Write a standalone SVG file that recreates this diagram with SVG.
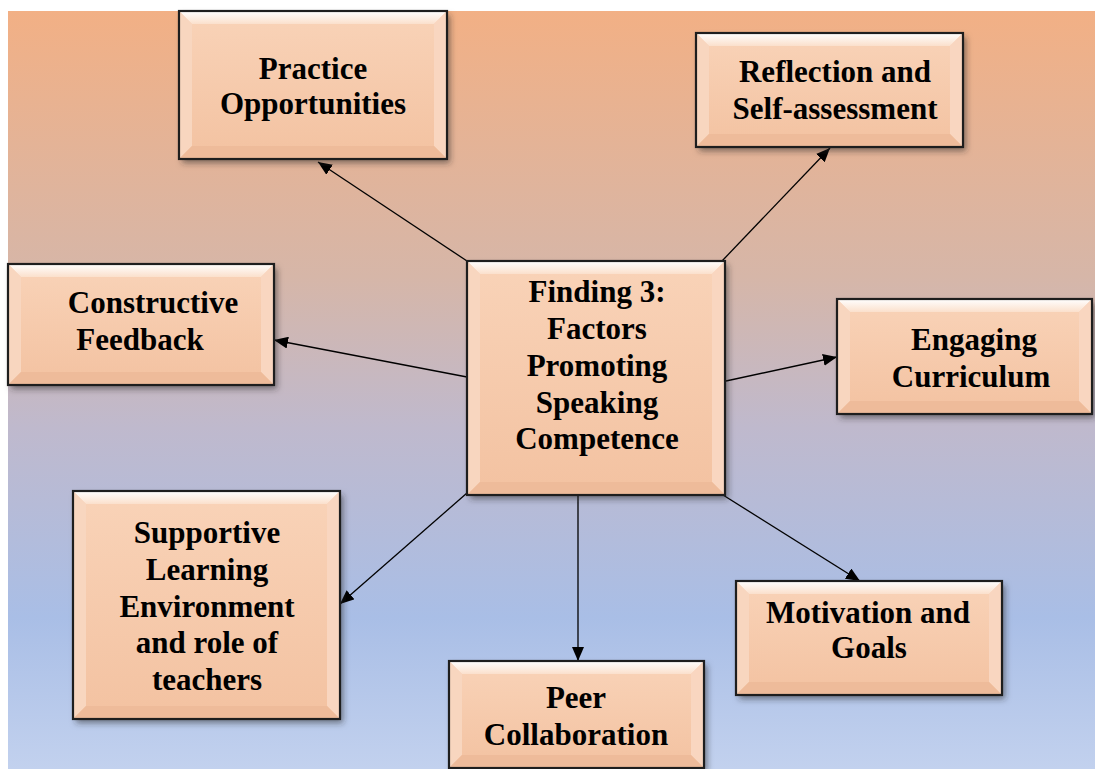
<svg xmlns="http://www.w3.org/2000/svg" width="1095" height="769" viewBox="0 0 1095 769">
  <defs>
    <linearGradient id="bg" x1="0" y1="0" x2="0" y2="1">
      <stop offset="0" stop-color="#f2b085"/>
      <stop offset="0.35" stop-color="#d6b6a8"/>
      <stop offset="0.55" stop-color="#bfb9cd"/>
      <stop offset="0.8" stop-color="#a9bee6"/>
      <stop offset="1" stop-color="#c2d1ee"/>
    </linearGradient>
    <linearGradient id="face" x1="0" y1="0" x2="0" y2="1">
      <stop offset="0" stop-color="#f9d3b8"/>
      <stop offset="1" stop-color="#f3c2a1"/>
    </linearGradient>
    <linearGradient id="topbev" x1="0" y1="0" x2="0" y2="1">
      <stop offset="0" stop-color="#ffffff"/>
      <stop offset="1" stop-color="#fbe0cc"/>
    </linearGradient>
    <filter id="shadow" x="-10%" y="-10%" width="125%" height="130%">
      <feDropShadow dx="3" dy="4" stdDeviation="3" flood-color="#2a2a2a" flood-opacity="0.55"/>
    </filter>
    <marker id="arrow" markerUnits="userSpaceOnUse" viewBox="0 0 14 12" markerWidth="14" markerHeight="12" refX="14" refY="6" orient="auto">
      <path d="M0,0 L14,6 L0,12 z" fill="#000"/>
    </marker>
  </defs>
  <style>
    .base { fill: url(#face); filter: url(#shadow); }
    .tb { fill: url(#topbev); }
    .lb { fill: #f8d6bf; }
    .rb { fill: #f9d6c0; }
    .bb { fill: #eebb9a; }
    .edge { fill: none; stroke: #1e1e1e; stroke-width: 2.2; }
    .lbl { font-family: "Liberation Serif", "Times New Roman", serif; font-weight: bold; font-size: 31px; fill: #000; text-anchor: middle; }
    .conn line { stroke: #000; stroke-width: 1.3; marker-end: url(#arrow); }
  </style>

  <rect x="8" y="11" width="1087" height="758" fill="url(#bg)"/>

  <g id="connectors" class="conn">
    <line x1="467" y1="261" x2="318" y2="162"/>
    <line x1="722" y1="261" x2="830" y2="148"/>
    <line x1="467" y1="377" x2="274" y2="340"/>
    <line x1="726" y1="381" x2="837" y2="357"/>
    <line x1="467" y1="493" x2="340" y2="604"/>
    <line x1="578" y1="495" x2="578" y2="661"/>
    <line x1="723" y1="495" x2="860" y2="581"/>
  </g>

  <g id="practice">
    <rect class="base" x="179" y="11" width="268" height="148"/>
    <polygon class="tb" points="179,11 447,11 434,24 192,24"/>
    <polygon class="lb" points="179,11 192,24 192,146 179,159"/>
    <polygon class="rb" points="447,11 447,159 434,146 434,24"/>
    <polygon class="bb" points="179,159 192,146 434,146 447,159"/>
    <rect class="edge" x="179" y="11" width="268" height="148"/>
    <text class="lbl" x="313" y="79">Practice</text>
    <text class="lbl" x="313" y="114">Opportunities</text>
  </g>

  <g id="reflection">
    <rect class="base" x="696" y="33" width="267" height="114"/>
    <polygon class="tb" points="696,33 963,33 950,46 709,46"/>
    <polygon class="lb" points="696,33 709,46 709,134 696,147"/>
    <polygon class="rb" points="963,33 963,147 950,134 950,46"/>
    <polygon class="bb" points="696,147 709,134 950,134 963,147"/>
    <rect class="edge" x="696" y="33" width="267" height="114"/>
    <text class="lbl" x="835" y="82">Reflection and</text>
    <text class="lbl" x="835" y="119">Self-assessment</text>
  </g>

  <g id="constructive">
    <rect class="base" x="8" y="264" width="266" height="121"/>
    <polygon class="tb" points="8,264 274,264 261,277 21,277"/>
    <polygon class="lb" points="8,264 21,277 21,372 8,385"/>
    <polygon class="rb" points="274,264 274,385 261,372 261,277"/>
    <polygon class="bb" points="8,385 21,372 261,372 274,385"/>
    <rect class="edge" x="8" y="264" width="266" height="121"/>
    <text class="lbl" x="153" y="313">Constructive</text>
    <text class="lbl" x="140" y="350">Feedback</text>
  </g>

  <g id="center">
    <rect class="base" x="467" y="261" width="258" height="234"/>
    <polygon class="tb" points="467,261 725,261 712,274 480,274"/>
    <polygon class="lb" points="467,261 480,274 480,482 467,495"/>
    <polygon class="rb" points="725,261 725,495 712,482 712,274"/>
    <polygon class="bb" points="467,495 480,482 712,482 725,495"/>
    <rect class="edge" x="467" y="261" width="258" height="234"/>
    <text class="lbl" x="597" y="302">Finding 3:</text>
    <text class="lbl" x="597" y="339">Factors</text>
    <text class="lbl" x="597" y="376">Promoting</text>
    <text class="lbl" x="597" y="413">Speaking</text>
    <text class="lbl" x="597" y="449">Competence</text>
  </g>

  <g id="engaging">
    <rect class="base" x="837" y="299" width="255" height="115"/>
    <polygon class="tb" points="837,299 1092,299 1079,312 850,312"/>
    <polygon class="lb" points="837,299 850,312 850,401 837,414"/>
    <polygon class="rb" points="1092,299 1092,414 1079,401 1079,312"/>
    <polygon class="bb" points="837,414 850,401 1079,401 1092,414"/>
    <rect class="edge" x="837" y="299" width="255" height="115"/>
    <text class="lbl" x="974" y="350">Engaging</text>
    <text class="lbl" x="971" y="387">Curriculum</text>
  </g>

  <g id="supportive">
    <rect class="base" x="73" y="491" width="267" height="228"/>
    <polygon class="tb" points="73,491 340,491 327,504 86,504"/>
    <polygon class="lb" points="73,491 86,504 86,706 73,719"/>
    <polygon class="rb" points="340,491 340,719 327,706 327,504"/>
    <polygon class="bb" points="73,719 86,706 327,706 340,719"/>
    <rect class="edge" x="73" y="491" width="267" height="228"/>
    <text class="lbl" x="207" y="543">Supportive</text>
    <text class="lbl" x="207" y="580">Learning</text>
    <text class="lbl" x="207" y="617">Environment</text>
    <text class="lbl" x="207" y="653">and role of</text>
    <text class="lbl" x="207" y="690">teachers</text>
  </g>

  <g id="peer">
    <rect class="base" x="449" y="661" width="255" height="107"/>
    <polygon class="tb" points="449,661 704,661 691,674 462,674"/>
    <polygon class="lb" points="449,661 462,674 462,755 449,768"/>
    <polygon class="rb" points="704,661 704,768 691,755 691,674"/>
    <polygon class="bb" points="449,768 462,755 691,755 704,768"/>
    <rect class="edge" x="449" y="661" width="255" height="107"/>
    <text class="lbl" x="576" y="708">Peer</text>
    <text class="lbl" x="576" y="745">Collaboration</text>
  </g>

  <g id="motivation">
    <rect class="base" x="736" y="581" width="266" height="114"/>
    <polygon class="tb" points="736,581 1002,581 989,594 749,594"/>
    <polygon class="lb" points="736,581 749,594 749,682 736,695"/>
    <polygon class="rb" points="1002,581 1002,695 989,682 989,594"/>
    <polygon class="bb" points="736,695 749,682 989,682 1002,695"/>
    <rect class="edge" x="736" y="581" width="266" height="114"/>
    <text class="lbl" x="868" y="623">Motivation and</text>
    <text class="lbl" x="869" y="658">Goals</text>
  </g>
</svg>
